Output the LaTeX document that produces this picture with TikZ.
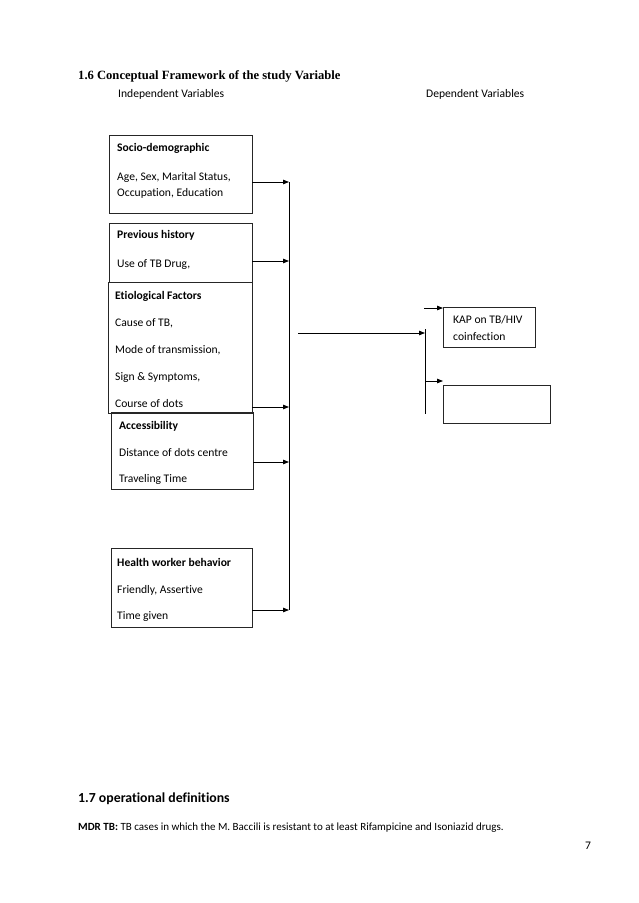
\documentclass[tikz,border=0pt]{standalone}
\usepackage{fontspec}
\setmainfont{Carlito}[RawFeature={-liga}]
\newfontfamily\timesfont{Liberation Serif}
\usetikzlibrary{arrows.meta}
\begin{document}
\begin{tikzpicture}[x=1pt,y=-1pt,
  box/.style={draw=black!85,line width=0.8pt,inner sep=0pt,outer sep=0pt},
  txt/.style={anchor=base west,inner sep=0pt,font=\fontsize{11.6}{13}\selectfont},
  head/.style={txt,font=\fontsize{11.6}{13}\selectfont\bfseries},
  conn/.style={line width=0.8pt,-{Triangle[length=6pt,width=4.5pt]}},
  bus/.style={line width=0.8pt}]
\useasboundingbox[fill=white] (0,0) rectangle (638,903);

% titles
\node[anchor=base west,inner sep=0pt,font=\timesfont\fontsize{12.6}{14}\selectfont\bfseries] (title) at (78,79) {1.6 Conceptual Framework of the study Variable};
\node[txt] (indep) at (118,97) {Independent Variables};
\node[txt] (dep) at (426,97) {Dependent Variables};

% boxes
\node[box,minimum width=143pt,minimum height=78pt] (socio) at (180.5,174) {};
\node[box,minimum width=143pt,minimum height=59pt] (prev) at (180.5,252.5) {};
\node[box,minimum width=144pt,minimum height=131pt] (etio) at (180,347.5) {};
\node[box,minimum width=142pt,minimum height=77pt] (access) at (182,450.5) {};
\node[box,minimum width=141pt,minimum height=79pt] (health) at (181.5,587.5) {};
\node[box,minimum width=92pt,minimum height=40pt] (kap) at (489,327) {};
\node[box,minimum width=107pt,minimum height=38pt] (empty) at (496.5,404) {};

% box texts
\node[head] (t1) at (117,151) {Socio-demographic};
\node[txt] (t2) at (117,180) {Age, Sex, Marital Status,};
\node[txt] (t3) at (117,196) {Occupation, Education};
\node[head] (t4) at (117,238) {Previous history};
\node[txt] (t5) at (117,267) {Use of TB Drug,};
\node[head] (t6) at (115,299) {Etiological Factors};
\node[txt] (t7) at (115,326) {Cause of TB,};
\node[txt] (t8) at (115,353) {Mode of transmission,};
\node[txt] (t9) at (115,380) {Sign \& Symptoms,};
\node[txt] (t10) at (115,407) {Course of dots};
\node[head] (t11) at (119,429) {Accessibility};
\node[txt] (t12) at (119,456) {Distance of dots centre};
\node[txt] (t13) at (119,482) {Traveling Time};
\node[head] (t14) at (117,566) {Health worker behavior};
\node[txt] (t15) at (117,593) {Friendly, Assertive};
\node[txt] (t16) at (117,619) {Time given};
\node[txt] (t17) at (453,323) {KAP on TB/HIV};
\node[txt] (t18) at (453,340) {coinfection};

% left bus
\coordinate (b1) at (289,182);
\coordinate (b2) at (289,261);
\coordinate (b3) at (289,407);
\coordinate (b4) at (289,462);
\coordinate (b5) at (289,610);
\draw[bus] (289,182) -- (b5);
\draw[conn] (socio.east |- b1) -- (b1);
\draw[conn] (prev.east |- b2) -- (b2);
\draw[conn] (etio.east |- b3) -- (b3);
\draw[conn] (access.east |- b4) -- (b4);
\draw[conn] (health.east |- b5) -- (b5);

% middle
\coordinate (m0) at (298,333);
\coordinate (r1) at (425,329);
\coordinate (r2) at (425,414);
\coordinate (mid) at (425,333);
\draw[bus] (r1) -- (r2);
\draw[conn] (m0) -- (mid);
\coordinate (k0) at (424,308);
\coordinate (e0) at (425,381);
\draw[conn] (k0) -- (kap.west |- k0);
\draw[conn] (e0) -- (empty.west |- e0);

% bottom text
\node[anchor=base west,inner sep=0pt,font=\fontsize{13.8}{17}\selectfont\bfseries] (h17) at (78,802) {1.7 operational definitions};
\node[anchor=base west,inner sep=0pt,font=\fontsize{11}{13}\selectfont] (mdr) at (78,830) {\textbf{MDR TB:} TB cases in which the M. Baccili is resistant to at least Rifampicine and Isoniazid drugs.};
\node[anchor=base west,inner sep=0pt,font=\fontsize{11.6}{13}\selectfont] (pg) at (585,849) {7};
\end{tikzpicture}
\end{document}
